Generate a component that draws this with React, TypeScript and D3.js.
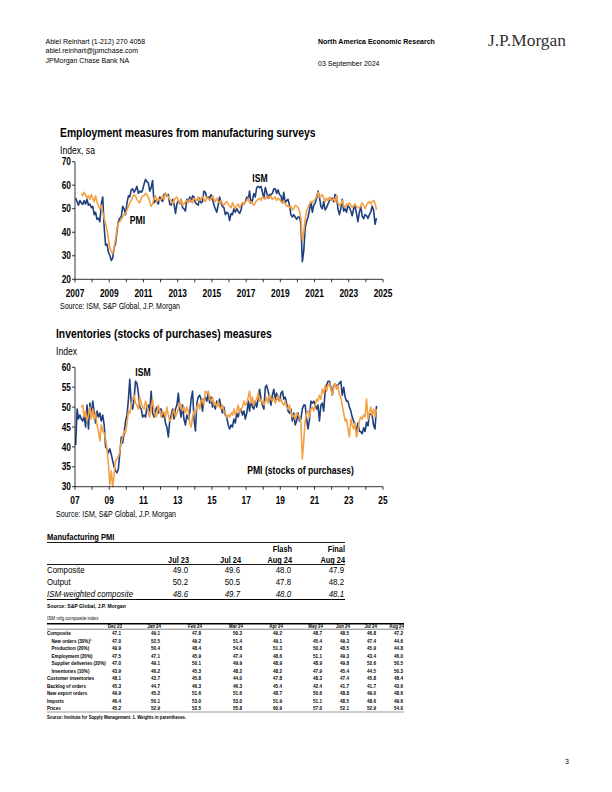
import React from "react";
import * as d3 from "d3";

const NAVY = "#1f3f7f";
const ORANGE = "#f4a044";
const SANS = "'Liberation Sans', Arial, sans-serif";
const SERIF = "'Liberation Serif', 'Times New Roman', serif";

// ISM employment, monthly from Jan 2007
const ismEmployment = [
  54.5, 53.0, 51.5, 53.5, 52.5, 51.8, 53.5, 52.0, 54.0, 51.5, 52.0, 50.5, // 2007
  51.0, 47.5, 48.5, 45.5, 46.0, 44.5, 52.0, 55.0, 42.0, 34.5, 35.0, 31.5, // 2008
  30.0, 28.0, 29.0, 33.5, 35.0, 40.5, 44.5, 46.0, 46.5, 51.0, 50.0, 47.5, // 2009
  52.5, 55.5, 55.0, 58.0, 58.5, 57.0, 58.0, 59.5, 56.5, 57.5, 57.0, 58.0, // 2010
  60.5, 62.5, 61.5, 61.0, 57.5, 59.0, 62.0, 52.5, 53.5, 53.0, 52.0, 55.0, // 2011
  54.0, 53.0, 56.0, 56.5, 55.5, 56.0, 52.0, 51.5, 54.0, 52.0, 48.0, 52.0, // 2012
  53.5, 52.0, 54.0, 50.5, 50.0, 49.0, 54.0, 53.0, 55.0, 53.0, 55.5, 55.0, // 2013
  52.5, 52.0, 51.5, 54.5, 52.5, 53.0, 57.5, 57.0, 54.5, 55.0, 54.5, 56.0, // 2014
  54.0, 51.5, 50.0, 48.5, 51.5, 55.0, 52.5, 51.0, 50.5, 47.5, 48.5, 48.0, // 2015
  45.0, 48.0, 47.5, 50.0, 48.5, 50.0, 49.0, 48.0, 49.5, 52.5, 52.0, 53.0, // 2016
  55.0, 54.0, 57.5, 52.5, 53.5, 56.5, 55.0, 59.0, 59.5, 59.0, 59.5, 57.0, // 2017
  54.5, 59.0, 57.0, 54.5, 56.0, 56.0, 56.5, 58.5, 58.5, 56.5, 58.0, 56.0, // 2018
  55.5, 52.5, 57.0, 52.5, 53.5, 54.0, 51.5, 47.5, 46.5, 47.5, 46.5, 45.5, // 2019
  46.5, 46.5, 43.5, 27.5, 32.0, 42.0, 44.5, 46.5, 49.5, 53.0, 48.5, 51.5, // 2020
  52.5, 54.5, 57.5, 55.0, 51.0, 50.0, 53.0, 49.5, 50.5, 52.0, 53.5, 54.0, // 2021
  54.5, 53.0, 56.0, 55.5, 50.0, 47.5, 50.0, 54.0, 49.0, 50.0, 48.5, 51.5, // 2022
  50.5, 49.0, 47.0, 50.0, 51.0, 48.0, 44.5, 48.5, 51.0, 46.8, 45.8, 47.5, // 2023
  47.1, 45.9, 47.4, 48.6, 51.1, 49.3, 43.4, 46.0, // 2024
];

// S&P Global PMI employment, monthly from May 2007
const pmiEmployment = [
  56.5, 55.5, 57.0, 56.0, 54.5, 55.5, 54.0, 56.0, // 2007
  54.5, 53.0, 55.5, 53.0, 51.0, 50.0, 51.5, 48.5, 46.0, 43.5, 41.0, 37.0, // 2008
  33.5, 31.5, 31.0, 33.5, 37.0, 41.5, 44.0, 44.5, 45.5, 46.5, 47.5, 48.0, // 2009
  49.5, 51.0, 52.5, 53.5, 55.0, 56.0, 55.5, 54.0, 53.0, 52.5, 54.5, 55.5, // 2010
  55.5, 56.5, 56.0, 55.0, 53.0, 51.0, 52.0, 54.5, 55.5, 53.0, 54.5, 53.5, // 2011
  54.0, 55.5, 54.0, 56.5, 56.0, 55.0, 54.0, 53.5, 52.0, 53.5, 54.5, 55.0, // 2012
  53.5, 52.0, 54.0, 51.5, 52.0, 53.0, 53.5, 52.5, 54.0, 53.5, 52.5, 54.5, // 2013
  54.0, 53.5, 55.0, 53.5, 54.0, 55.5, 54.0, 53.0, 55.0, 54.5, 53.5, 54.0, // 2014
  55.5, 54.0, 53.0, 54.5, 53.0, 52.5, 53.5, 52.0, 51.5, 52.5, 53.0, 52.0, // 2015
  51.0, 50.5, 52.5, 51.0, 50.0, 51.5, 52.0, 50.5, 51.5, 52.5, 52.0, 53.0, // 2016
  53.5, 54.5, 52.5, 53.0, 52.5, 51.5, 52.5, 53.5, 54.0, 54.5, 53.5, 55.0, // 2017
  54.5, 54.0, 55.5, 55.0, 54.5, 55.5, 54.0, 54.5, 55.0, 53.5, 54.5, 54.0, // 2018
  53.0, 52.5, 53.5, 52.0, 51.0, 51.5, 50.5, 51.0, 49.5, 50.0, 51.5, 51.0, // 2019
  50.5, 49.0, 46.0, 36.5, 40.0, 45.5, 49.0, 50.5, 52.0, 53.0, 52.5, 53.5, // 2020
  54.0, 55.5, 57.0, 55.0, 55.5, 56.0, 54.5, 53.0, 54.5, 53.5, 55.0, 54.0, // 2021
  53.5, 54.5, 53.0, 55.5, 52.5, 51.5, 52.0, 53.5, 51.0, 50.5, 52.0, 51.5, // 2022
  52.5, 51.5, 50.5, 51.5, 52.0, 51.0, 50.5, 50.0, 51.5, 52.5, 51.5, 50.0, // 2023
  51.5, 52.5, 53.0, 52.0, 53.0, 53.5, 52.5, 49.5, // 2024
];

// ISM inventories, monthly from Jan 2007
const ismInventories = [
  40.5, 49.5, 47.0, 48.0, 47.0, 46.5, 48.0, 45.0, 50.5, 44.5, 51.0, 47.5, // 2007
  51.5, 48.5, 46.0, 49.0, 47.5, 48.5, 46.5, 48.0, 45.5, 40.0, 39.5, 38.5, // 2008
  39.5, 38.0, 36.5, 35.0, 34.0, 33.5, 34.5, 38.5, 42.5, 41.0, 43.5, 46.5, // 2009
  48.0, 52.0, 57.0, 51.0, 49.5, 52.0, 56.5, 56.0, 53.5, 50.0, 49.5, 47.5, // 2010
  48.0, 47.5, 50.0, 50.5, 49.0, 54.0, 48.5, 47.5, 49.0, 50.0, 48.5, 49.5, // 2011
  49.5, 47.5, 48.5, 46.0, 45.0, 42.5, 46.5, 48.0, 49.5, 47.0, 49.5, 50.5, // 2012
  53.5, 49.5, 47.5, 50.5, 47.0, 45.5, 48.0, 47.0, 48.5, 52.0, 54.0, 47.0, // 2013
  44.0, 51.0, 52.5, 53.0, 52.0, 49.0, 52.0, 52.5, 51.5, 53.5, 51.0, 52.5, // 2014
  50.0, 51.0, 49.5, 51.5, 50.5, 52.0, 50.0, 48.5, 50.0, 48.0, 47.5, 45.5, // 2015
  44.5, 45.5, 45.0, 47.0, 46.0, 48.5, 47.5, 49.0, 49.5, 48.0, 49.0, 47.0, // 2016
  48.5, 51.5, 49.0, 52.0, 50.0, 49.5, 51.5, 50.0, 52.0, 54.5, 52.0, 50.5, // 2017
  49.5, 55.0, 55.5, 54.0, 52.5, 50.5, 53.0, 54.5, 52.0, 53.5, 52.0, 51.5, // 2018
  53.5, 54.0, 52.0, 52.5, 51.0, 49.0, 48.5, 49.5, 46.5, 48.5, 45.5, 46.5, // 2019
  48.5, 46.5, 47.0, 49.5, 50.5, 50.5, 47.0, 44.5, 47.0, 51.5, 51.0, 51.5, // 2020
  50.5, 49.5, 50.5, 46.5, 50.5, 51.0, 49.0, 54.0, 55.5, 56.5, 56.5, 55.0, // 2021
  53.0, 55.5, 55.5, 55.5, 55.5, 56.0, 56.5, 53.0, 55.0, 52.5, 51.5, 51.5, // 2022
  50.0, 49.0, 47.5, 46.5, 45.5, 44.0, 46.0, 44.0, 43.8, 43.3, 44.8, 43.9, // 2023
  46.2, 45.3, 48.2, 48.2, 47.9, 45.4, 44.5, 50.3, // 2024
];

// S&P Global PMI stocks of purchases, monthly from May 2007
const pmiStocks = [
  50.0, 50.5, 47.5, 49.0, 46.5, 48.0, 50.0, 47.0, // 2007
  49.5, 47.0, 48.5, 45.5, 44.0, 41.5, 45.5, 44.0, 43.5, 42.0, 39.5, 35.5, // 2008
  30.5, 34.0, 30.0, 33.0, 36.5, 37.0, 37.5, 39.0, 41.0, 42.5, 44.0, 43.5, // 2009
  46.0, 49.0, 48.5, 50.5, 52.0, 53.0, 51.0, 50.5, 49.5, 52.5, 51.0, 50.0, // 2010
  49.5, 51.5, 50.5, 48.5, 47.5, 50.0, 52.0, 49.0, 47.5, 48.0, 50.5, 49.0, // 2011
  47.5, 49.0, 48.5, 47.5, 50.0, 48.0, 46.5, 47.0, 48.5, 49.5, 47.5, 48.5, // 2012
  49.5, 51.0, 50.5, 49.0, 50.0, 48.5, 50.0, 49.0, 46.0, 45.0, 47.5, 49.0, // 2013
  48.5, 50.0, 51.0, 49.5, 51.5, 52.0, 50.5, 54.0, 53.5, 54.0, 52.0, 51.5, // 2014
  52.5, 50.5, 51.0, 50.0, 51.5, 50.0, 49.5, 50.5, 49.0, 48.5, 47.5, 48.0, // 2015
  47.5, 48.5, 48.0, 49.5, 48.0, 49.0, 50.5, 48.5, 49.5, 50.0, 51.5, 50.5, // 2016
  51.0, 52.5, 54.0, 51.0, 52.5, 50.5, 51.5, 52.0, 53.5, 51.5, 52.0, 51.0, // 2017
  50.5, 51.5, 52.5, 51.0, 53.0, 52.0, 51.5, 52.5, 51.0, 52.0, 53.0, 51.5, // 2018
  52.0, 51.0, 50.5, 51.5, 50.0, 49.5, 50.5, 48.5, 47.5, 48.0, 47.0, 48.5, // 2019
  48.0, 47.5, 46.0, 37.0, 41.5, 46.5, 48.5, 49.0, 47.5, 49.5, 50.0, 49.0, // 2020
  50.5, 52.0, 51.5, 53.0, 52.0, 54.5, 53.5, 55.5, 54.0, 55.5, 56.0, 54.5, // 2021
  53.0, 55.0, 56.0, 54.5, 55.5, 53.0, 52.5, 50.5, 48.5, 46.5, 47.0, 44.5, // 2022
  42.5, 47.0, 45.5, 44.5, 46.0, 42.5, 44.0, 46.5, 47.5, 47.0, 48.0, 47.5, // 2023
  52.0, 47.0, 48.5, 50.0, 48.0, 49.5, 47.5, 49.5, // 2024
];

const empTicks = [20, 30, 40, 50, 60, 70];
const invTicks = [30, 35, 40, 45, 50, 55, 60];
const yearTicks = d3.range(2007, 2026);

// Manufacturing PMI table
const pmiHeadTop = ["", "", "Flash", "Final"];
const pmiHead = ["Jul 23", "Jul 24", "Aug 24", "Aug 24"];
const pmiRows = [
  { label: "Composite", values: ["49.0", "49.6", "48.0", "47.9"], italic: false },
  { label: "Output", values: ["50.2", "50.5", "47.8", "48.2"], italic: false },
  { label: "ISM-weighted composite", values: ["48.6", "49.7", "48.0", "48.1"], italic: true },
];

// ISM composite table
const ismCols = ["Dec 23", "Jan 24", "Feb 24", "Mar 24", "Apr 24", "May 24", "Jun 24", "Jul 24", "Aug 24"];
const ismRows = [
  { label: "Composite", indent: false, values: ["47.1", "49.1", "47.8", "50.3", "49.2", "48.7", "48.5", "46.8", "47.2"] },
  { label: "New orders (30%)\u00b9", indent: true, values: ["47.0", "52.5", "49.2", "51.4", "49.1", "45.4", "49.3", "47.4", "44.6"] },
  { label: "Production (20%)", indent: true, values: ["49.9", "50.4", "48.4", "54.8", "51.3", "50.2", "48.5", "45.9", "44.8"] },
  { label: "Employment (20%)", indent: true, values: ["47.5", "47.1", "45.9", "47.4", "48.6", "51.1", "49.3", "43.4", "46.0"] },
  { label: "Supplier deliveries (20%)", indent: true, values: ["47.0", "49.1", "50.1", "49.9", "48.9", "48.9", "49.8", "52.6", "50.5"] },
  { label: "Inventories (10%)", indent: true, values: ["43.9", "46.2", "45.3", "48.2", "48.2", "47.9", "45.4", "44.5", "50.3"] },
  { label: "Customer inventories", indent: false, values: ["48.1", "43.7", "45.8", "44.0", "47.8", "48.3", "47.4", "45.8", "48.4"] },
  { label: "Backlog of orders", indent: false, values: ["45.3", "44.7", "46.3", "46.3", "45.4", "42.4", "41.7", "41.7", "43.6"] },
  { label: "New export orders", indent: false, values: ["49.9", "45.2", "51.6", "51.6", "48.7", "50.6", "48.8", "49.0", "48.6"] },
  { label: "Imports", indent: false, values: ["46.4", "50.1", "53.0", "53.0", "51.9", "51.1", "48.5", "48.6", "49.6"] },
  { label: "Prices", indent: false, values: ["45.2", "52.9", "52.5", "55.8", "60.9", "57.0", "52.1", "52.9", "54.0"] },
];

type TProps = {
  x: number; y: number; size: number; bold?: boolean; italic?: boolean;
  anchor?: "start" | "middle" | "end"; sx?: number; fill?: string; children: React.ReactNode;
};

// narrow text: Arial Narrow look made by squeezing Liberation Sans
function T({ x, y, size, bold, italic, anchor = "start", sx = 0.82, fill = "#000", children }: TProps) {
  return (
    <text
      transform={`translate(${x},${y}) scale(${sx},1)`}
      fontFamily={SANS}
      fontSize={size}
      fontWeight={bold ? "bold" : "normal"}
      fontStyle={italic ? "italic" : "normal"}
      textAnchor={anchor}
      fill={fill}
    >
      {children}
    </text>
  );
}

type Series = { values: number[]; startMonth: number; color: string };
type ChartProps = {
  title: string; titleX: number; titleY: number; unit: string; unitY: number;
  top: number; bottom: number; domain: [number, number]; ticks: number[];
  yearFmt: (y: number) => string; series: Series[];
  labels: { text: string; x: number; y: number }[]; sourceY: number;
};

const x = d3.scaleTime().domain([new Date(2007, 0, 1), new Date(2025, 0, 1)]).range([75, 383]);

function LineChart(p: ChartProps) {
  const y = d3.scaleLinear().domain(p.domain).range([p.bottom, p.top]);
  const mkLine = (s: Series) =>
    d3.line<number>()
      .x((_, i) => x(new Date(2007, s.startMonth + i, 15)))
      .y((d) => y(d))(s.values) as string;
  return (
    <g>
      <T x={p.titleX} y={p.titleY} size={12.6} bold>{p.title}</T>
      <T x={p.titleX} y={p.unitY} size={10.5}>{p.unit}</T>
      {p.series.map((s, i) => (
        <path key={i} d={mkLine(s)} fill="none" stroke={s.color} strokeWidth={1.6} strokeLinejoin="round" />
      ))}
      <line x1={75} x2={75} y1={p.top} y2={p.bottom} stroke="#000" strokeWidth={0.8} />
      <line x1={75} x2={383} y1={p.bottom} y2={p.bottom} stroke="#000" strokeWidth={0.8} />
      {p.ticks.map((t) => (
        <g key={t}>
          <line x1={72} x2={75} y1={y(t)} y2={y(t)} stroke="#000" strokeWidth={0.8} />
          <T x={71} y={y(t) + 3.6} size={10.2} bold anchor="end">{String(t)}</T>
        </g>
      ))}
      {yearTicks.map((yr) => (
        <g key={yr}>
          <line x1={x(new Date(yr, 0, 1))} x2={x(new Date(yr, 0, 1))} y1={p.bottom} y2={p.bottom + 3} stroke="#000" strokeWidth={0.8} />
          {(yr - 2007) % 2 === 0 && (
            <T x={x(new Date(yr, 0, 1))} y={p.bottom + 17.5} size={10.2} bold anchor="middle">{p.yearFmt(yr)}</T>
          )}
        </g>
      ))}
      {p.labels.map((l) => (
        <T key={l.text} x={l.x} y={l.y} size={10.5} bold anchor="middle">{l.text}</T>
      ))}
      <T x={p.titleX} y={p.sourceY} size={8.6}>Source: ISM, S&amp;P Global, J.P. Morgan</T>
    </g>
  );
}

function PmiTable() {
  const right = [189, 241, 292, 345];
  const rowY = [572.5, 584.5, 596.5];
  return (
    <g>
      <T x={47} y={540} size={9.2} bold>Manufacturing PMI</T>
      <line x1={47} x2={345} y1={542.5} y2={542.5} stroke="#000" strokeWidth={0.9} />
      {pmiHeadTop.map((h, i) => h && <T key={"t" + i} x={right[i]} y={552} size={9} bold anchor="end">{h}</T>)}
      {pmiHead.map((h, i) => <T key={"h" + i} x={right[i]} y={562.5} size={9} bold anchor="end">{h}</T>)}
      <line x1={47} x2={345} y1={564.5} y2={564.5} stroke="#000" strokeWidth={0.9} />
      {pmiRows.map((r, j) => (
        <g key={r.label}>
          <T x={47} y={rowY[j]} size={9.6} italic={r.italic}>{r.label}</T>
          {r.values.map((v, i) => (
            <T key={i} x={right[i] - 1} y={rowY[j]} size={9.6} italic={r.italic} anchor="end">{v}</T>
          ))}
        </g>
      ))}
      <line x1={47} x2={345} y1={599.5} y2={599.5} stroke="#000" strokeWidth={1.2} />
      <T x={47} y={607.5} size={6.2} bold>Source: S&amp;P Global, J.P. Morgan</T>
    </g>
  );
}

function IsmTable() {
  const right = [122, 161, 202, 243, 283, 323, 350, 377, 404];
  const rowY = d3.scaleLinear().domain([0, 10]).range([635, 710.3]);
  return (
    <g>
      <T x={47} y={619.5} size={5.6}>ISM mfg composite index</T>
      <line x1={47} x2={404} y1={623.7} y2={623.7} stroke="#000" strokeWidth={1.4} />
      {ismCols.map((c, i) => <T key={c} x={right[i]} y={627.6} size={5.4} bold anchor="end">{c}</T>)}
      <line x1={47} x2={404} y1={629.2} y2={629.2} stroke="#000" strokeWidth={0.5} />
      {ismRows.map((r, j) => (
        <g key={r.label}>
          <T x={r.indent ? 51.5 : 47} y={rowY(j)} size={5.6} bold>{r.label}</T>
          {r.values.map((v, i) => (
            <T key={i} x={right[i] - 1} y={rowY(j)} size={5.6} bold anchor="end">{v}</T>
          ))}
        </g>
      ))}
      <line x1={47} x2={404} y1={712} y2={712} stroke="#000" strokeWidth={0.4} />
      <T x={47} y={718.5} size={5.2} bold>Source:  Institute for Supply Management.  1. Weights in parentheses.</T>
    </g>
  );
}

export default function App() {
  return (
    <svg width={612} height={792} style={{ position: "absolute", left: 0, top: 0, background: "#fff" }}>
      <rect width={612} height={792} fill="#fff" />
      {/* header */}
      <text x={45.5} y={43.5} fontFamily={SANS} fontSize={7}>Abiel Reinhart  (1-212) 270 4058</text>
      <text x={45.5} y={53.3} fontFamily={SANS} fontSize={7}>abiel.reinhart@jpmchase.com</text>
      <text x={45.5} y={63} fontFamily={SANS} fontSize={7}>JPMorgan Chase Bank NA</text>
      <text x={318} y={43.5} fontFamily={SANS} fontSize={7} fontWeight="bold">North America Economic Research</text>
      <text x={318} y={65.5} fontFamily={SANS} fontSize={7}>03 September 2024</text>
      <text x={488} y={46} fontFamily={SERIF} fontSize={16.5} textLength={78} lengthAdjust="spacingAndGlyphs" fill="#333">J.P.Morgan</text>

      <LineChart
        title="Employment measures from manufacturing surveys"
        titleX={60} titleY={137} unit="Index, sa" unitY={154}
        top={161.7} bottom={279.3} domain={[20, 70]} ticks={empTicks}
        yearFmt={(yr) => String(yr)}
        series={[
          { values: ismEmployment, startMonth: 0, color: NAVY },
          { values: pmiEmployment, startMonth: 4, color: ORANGE },
        ]}
        labels={[{ text: "ISM", x: 260, y: 182 }, { text: "PMI", x: 137.5, y: 224 }]}
        sourceY={308.5}
      />
      <LineChart
        title="Inventories (stocks of purchases) measures"
        titleX={56} titleY={338} unit="Index" unitY={355}
        top={367.3} bottom={486.7} domain={[30, 60]} ticks={invTicks}
        yearFmt={(yr) => String(yr).slice(2)}
        series={[
          { values: ismInventories, startMonth: 0, color: NAVY },
          { values: pmiStocks, startMonth: 4, color: ORANGE },
        ]}
        labels={[{ text: "ISM", x: 143, y: 376 }, { text: "PMI (stocks of purchases)", x: 300.5, y: 474 }]}
        sourceY={517}
      />

      <PmiTable />
      <IsmTable />

      <text x={565} y={764} fontFamily={SANS} fontSize={7}>3</text>
    </svg>
  );
}
